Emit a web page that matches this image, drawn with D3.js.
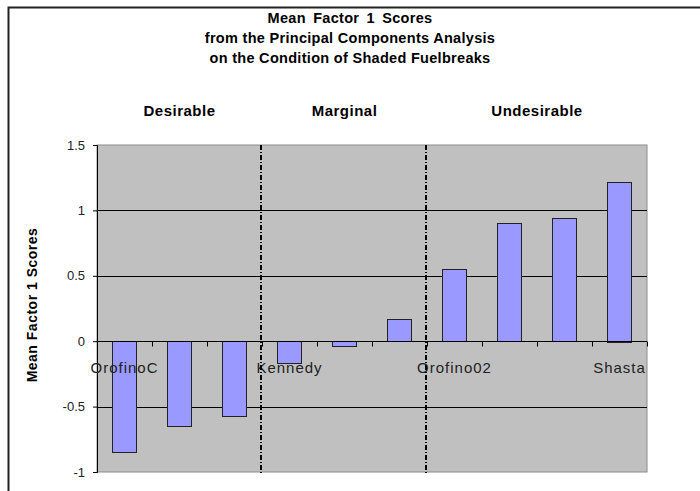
<!DOCTYPE html>
<html>
<head>
<meta charset="utf-8">
<script src="https://cdn.jsdelivr.net/npm/d3@7"></script>
<style>
	body { margin: 0; background: #fff; }
	text { font-family: "Liberation Sans", Arial, sans-serif; }
</style>
</head>
<body>
<div id="chart"></div>
<script>
// category labels (Excel only showed every third one)
var categories = ['OrofinoC', '', '', 'Kennedy', '', '', 'Orofino02', '', '', 'Shasta'];
var scores = [-0.85, -0.65, -0.57, -0.17, -0.04, 0.17, 0.55, 0.90, 0.94, 1.22];
var groups = ['Desirable', 'Marginal', 'Undesirable'];
var groupStart = [0, 3, 6];
var groupEnd = [3, 6, 10];
var yTicks = [-1, -0.5, 0, 0.5, 1, 1.5];
var titleLines = ['Mean Factor 1 Scores', 'from the Principal Components Analysis', 'on the Condition of Shaded Fuelbreaks'];

var width = 700;
var height = 491;
var plotLeft = 97, plotRight = 647, plotTop = 145, plotBottom = 472;

var svg = d3.select('#chart')
	.append('svg')
	.attr('width', width)
	.attr('height', height);

// outer chart border (runs off the right and bottom)
svg.append('path')
	.attr('d', 'M8.5,' + height + 'V7.5H' + width)
	.attr('fill', 'none')
	.attr('stroke', '#222')
	.attr('stroke-width', 2);

var idx = d3.range(categories.length);
var x = d3.scaleBand()
	.domain(idx)
	.range([plotLeft, plotRight]);

var y = d3.scaleLinear()
	.domain([-1, 1.5])
	.range([plotBottom, plotTop]);

// plot area
svg.append('rect')
	.attr('x', plotLeft)
	.attr('y', plotTop)
	.attr('width', plotRight - plotLeft)
	.attr('height', plotBottom - plotTop)
	.attr('fill', '#c0c0c0')
	.attr('stroke', '#8c8c8c')
	.attr('stroke-width', 1);

// gridlines
svg.selectAll('.grid')
	.data(yTicks.filter(function(d){ return d > -1 && d < 1.5; }))
	.enter()
	.append('line')
	.attr('x1', plotLeft)
	.attr('x2', plotRight)
	.attr('y1', function(d){ return Math.round(y(d)) + 0.5; })
	.attr('y2', function(d){ return Math.round(y(d)) + 0.5; })
	.attr('stroke', '#000')
	.attr('stroke-width', 1);

// y axis
var yAxis = d3.axisLeft(y)
	.tickValues(yTicks)
	.tickSize(4)
	.tickFormat(function(d){ return String(d); });

var yg = svg.append('g')
	.attr('transform', 'translate(' + plotLeft + ',0)')
	.call(yAxis);
yg.select('.domain').attr('stroke', '#000');
yg.selectAll('.tick line').attr('stroke', '#000');
yg.selectAll('.tick text')
	.attr('x', -12)
	.attr('fill', '#222')
	.style('font-size', '13px')
	.style('font-family', '"Liberation Sans", Arial, sans-serif');

// bars
var barW = x.bandwidth() / 2.25;
svg.selectAll('.bar')
	.data(scores)
	.enter()
	.append('rect')
	.attr('class', 'bar')
	.attr('x', function(d, i){ return Math.round(x(i) + (x.bandwidth() - barW) / 2) + 0.5; })
	.attr('y', function(d){ return Math.round(y(Math.max(0, d))) + 0.5; })
	.attr('width', Math.round(barW))
	.attr('height', function(d){ return Math.round(Math.abs(y(d) - y(0))); })
	.attr('fill', '#9999ff')
	.attr('stroke', '#222')
	.attr('stroke-width', 1);

// x axis at zero with tick marks between bands
var zeroY = Math.round(y(0)) + 0.5;
svg.append('line')
	.attr('x1', plotLeft)
	.attr('x2', plotRight)
	.attr('y1', zeroY)
	.attr('y2', zeroY)
	.attr('stroke', '#000');

svg.selectAll('.xtick')
	.data(d3.range(1, categories.length + 1))
	.enter()
	.append('line')
	.attr('x1', function(d){ return Math.round(plotLeft + d * x.step()) + 0.5; })
	.attr('x2', function(d){ return Math.round(plotLeft + d * x.step()) + 0.5; })
	.attr('y1', zeroY)
	.attr('y2', zeroY + 5)
	.attr('stroke', '#000');

// category labels
svg.selectAll('.cat')
	.data(categories)
	.enter()
	.append('text')
	.attr('x', function(d, i){ return x(i) + x.bandwidth() / 2; })
	.attr('y', y(0) + 32)
	.attr('text-anchor', 'middle')
	.attr('fill', '#222')
	.style('font-size', '15px')
	.style('letter-spacing', '1px')
	.text(function(d){ return d; });

// dash-dot separators between groups
svg.selectAll('.sep')
	.data(groupStart.slice(1))
	.enter()
	.append('line')
	.attr('x1', function(d){ return x(d) - 1; })
	.attr('x2', function(d){ return x(d) - 1; })
	.attr('y1', plotTop)
	.attr('y2', plotBottom + 1)
	.attr('stroke', '#000')
	.attr('stroke-width', 2)
	.attr('stroke-dasharray', '5,2,1,2');

// group labels
svg.selectAll('.group')
	.data(groups)
	.enter()
	.append('text')
	.attr('x', function(d, i){ return (x(groupStart[i]) + x(groupEnd[i] - 1) + x.bandwidth()) / 2; })
	.attr('y', 116)
	.attr('text-anchor', 'middle')
	.style('font-size', '15px')
	.style('font-weight', 'bold')
	.style('letter-spacing', '0.5px')
	.text(function(d){ return d; });

// title
svg.selectAll('.title')
	.data(titleLines)
	.enter()
	.append('text')
	.attr('x', 350)
	.attr('y', function(d, i){ return 23 + i * 20; })
	.attr('text-anchor', 'middle')
	.style('font-size', '14.5px')
	.style('font-weight', 'bold')
	.style('letter-spacing', '0.3px')
	.style('word-spacing', function(d, i){ return i === 0 ? '3px' : '0px'; })
	.text(function(d){ return d; });

// y axis title
svg.append('text')
	.attr('transform', 'translate(37,' + 305 + ') rotate(-90)')
	.attr('text-anchor', 'middle')
	.style('font-size', '14px')
	.style('font-weight', 'bold')
	.style('letter-spacing', '0.5px')
	.text('Mean Factor 1 Scores');
</script>
</body>
</html>
